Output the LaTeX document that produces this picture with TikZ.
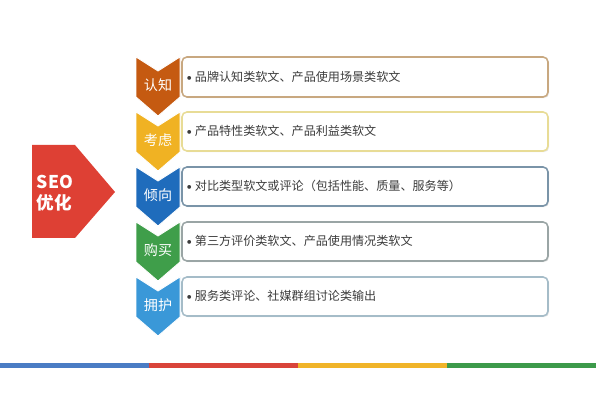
\documentclass[tikz,border=0pt]{standalone}
\usepackage{fontspec}
\setmainfont{Noto Sans CJK SC}
\definecolor{awareorange}{RGB}{197, 90, 17}
\definecolor{considgold}{RGB}{240, 178, 35}
\definecolor{prefblue}{RGB}{31, 108, 188}
\definecolor{buygreen}{RGB}{63, 158, 74}
\definecolor{loyalblue}{RGB}{58, 152, 216}
\definecolor{seored}{RGB}{222, 64, 52}
\definecolor{edgetan}{RGB}{200, 168, 128}
\definecolor{edgeyellow}{RGB}{232, 220, 150}
\definecolor{edgeslate}{RGB}{122, 148, 168}
\definecolor{edgegray}{RGB}{154, 165, 165}
\definecolor{edgesky}{RGB}{165, 188, 200}
\definecolor{bodytext}{RGB}{60, 60, 60}
\definecolor{barblue}{RGB}{74, 124, 196}
\definecolor{barred}{RGB}{217, 68, 58}
\definecolor{baryellow}{RGB}{240, 180, 41}
\definecolor{bargreen}{RGB}{60, 154, 74}
\newcommand{\stagedot}{\makebox[9pt][l]{\hspace{3pt}\raisebox{0.6pt}{\fontsize{6.5}{7}\selectfont$\bullet$}}}
\usetikzlibrary{shapes, arrows.meta, positioning, calc, shadows}

\begin{document}
\begin{tikzpicture}[x=0.025cm, y=-0.025cm,
  chev/.style={draw=white, line width=0.6pt, line join=miter},
  chevlabel/.style={text=white, font=\fontsize{10}{11}\selectfont, inner sep=0pt},
  stagebox/.style={fill=white, rounded corners=3.5pt, line width=1.1pt,
    drop shadow={opacity=0.18, shadow xshift=0.8pt, shadow yshift=-0.8pt}},
  stagetext/.style={anchor=west, text=bodytext, font=\fontsize{8.6}{10}\selectfont, inner sep=0pt}]
  \useasboundingbox[fill=white] (0,0) rectangle (600,400);

  % SEO arrow
  \fill[seored] (32,145) -- (75,145) -- (115,192) -- (75,238) -- (32,238) -- cycle;
  \node[text=white, font=\fontsize{12.5}{15}\selectfont\bfseries, align=left, inner sep=0pt] (seo) at (55,193) {SEO\\优化};

  % Text boxes
  \draw[stagebox, draw=edgetan] (182,57) rectangle (548,97);
  \draw[stagebox, draw=edgeyellow] (182,112) rectangle (548,151);
  \draw[stagebox, draw=edgeslate] (182,167) rectangle (548,206);
  \draw[stagebox, draw=edgegray] (182,222) rectangle (548,261);
  \draw[stagebox, draw=edgesky] (182,277) rectangle (548,316);

  \node[stagetext] (aware text) at (182,77) {\stagedot 品牌认知类软文、产品使用场景类软文};
  \node[stagetext] (consid text) at (182,131) {\stagedot 产品特性类软文、产品利益类软文};
  \node[stagetext] (pref text) at (182,186) {\stagedot 对比类型软文或评论（包括性能、质量、服务等）};
  \node[stagetext] (buy text) at (182,241) {\stagedot 第三方评价类软文、产品使用情况类软文};
  \node[stagetext] (loyal text) at (182,296) {\stagedot 服务类评论、社媒群组讨论类输出};

  % Chevrons
  \filldraw[chev, fill=awareorange] (136,57) -- ++(22,14) -- ++(22,-14) -- ++(0,40) -- ++(-22,19) -- ++(-22,-19) -- cycle;
  \filldraw[chev, fill=considgold] (136,112) -- ++(22,14) -- ++(22,-14) -- ++(0,40) -- ++(-22,19) -- ++(-22,-19) -- cycle;
  \filldraw[chev, fill=prefblue] (136,167) -- ++(22,14) -- ++(22,-14) -- ++(0,40) -- ++(-22,19) -- ++(-22,-19) -- cycle;
  \filldraw[chev, fill=buygreen] (136,222) -- ++(22,14) -- ++(22,-14) -- ++(0,40) -- ++(-22,19) -- ++(-22,-19) -- cycle;
  \filldraw[chev, fill=loyalblue] (136,277) -- ++(22,14) -- ++(22,-14) -- ++(0,40) -- ++(-22,19) -- ++(-22,-19) -- cycle;

  \node[chevlabel] (aware) at (158,85) {认知};
  \node[chevlabel] (consid) at (158,140) {考虑};
  \node[chevlabel] (pref) at (158,195) {倾向};
  \node[chevlabel] (buy) at (158,250) {购买};
  \node[chevlabel] (loyal) at (158,305) {拥护};

  % Bottom bar
  \fill[barblue] (0,363.5) rectangle (149,368);
  \fill[barred] (149,363.5) rectangle (298,368);
  \fill[baryellow] (298,363.5) rectangle (447,368);
  \fill[bargreen] (447,363.5) rectangle (596,368);
\end{tikzpicture}
\end{document}
